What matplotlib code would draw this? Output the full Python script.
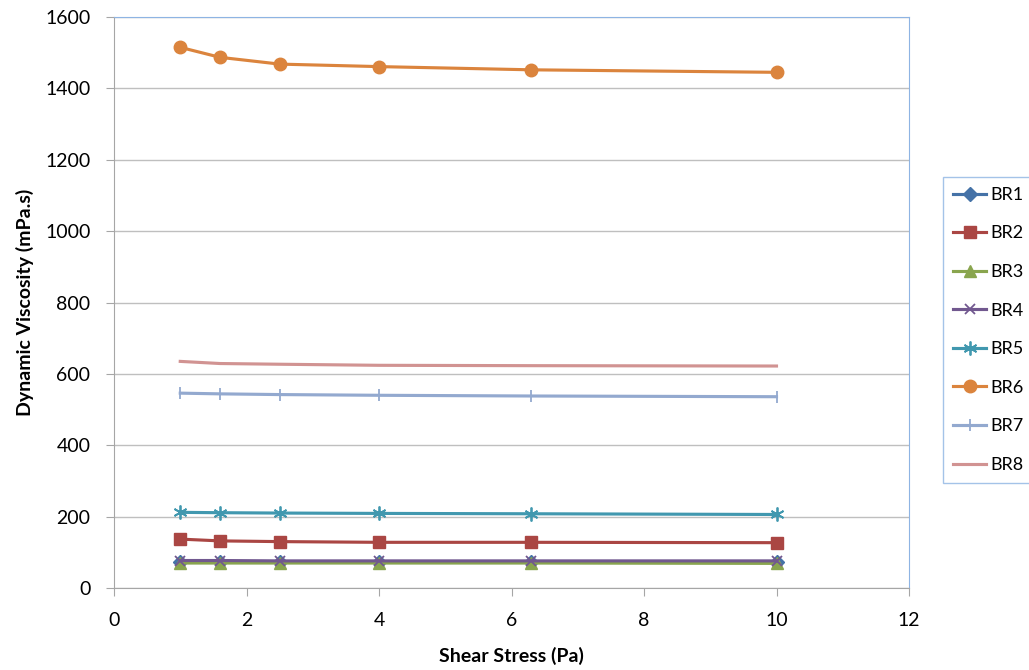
import matplotlib
matplotlib.use("Agg")
import matplotlib.pyplot as plt

plt.rcParams['font.family'] = ['Lato', 'DejaVu Sans']

shear = [1, 1.6, 2.5, 4, 6.3, 10]
br1 = [73, 73, 73, 73, 73, 73]
br2 = [137, 132, 130, 128, 128, 127]
br3 = [70, 70, 70, 70, 70, 69]
br4 = [77, 77, 76, 76, 76, 76]
br5 = [212, 211, 210, 209, 208, 206]
br6 = [1515, 1487, 1468, 1461, 1452, 1445]
br7 = [546, 544, 542, 540, 538, 536]
br8 = [635, 629, 627, 624, 623, 622]
labels = ["BR1", "BR2", "BR3", "BR4", "BR5", "BR6", "BR7", "BR8"]

styles = [
    ("#4572A7", "D", 7),
    ("#AA4643", "s", 8.5),
    ("#89A54E", "^", 8.5),
    ("#71588F", "x", 7),
    ("#4198AF", (6, 2, 0), 10),
    ("#DB843D", "o", 9),
    ("#93A9CF", "|", 8),
    ("#D19392", None, 0),
]

fig = plt.figure(figsize=(10.29, 6.70), dpi=100)
ax = fig.add_axes([114/1029, 1 - 588/670, (909-114)/1029, (588-17)/670])

for name, vals, (col, mk, ms) in zip(labels, [br1, br2, br3, br4, br5, br6, br7, br8], styles):
    if mk is None:
        ax.plot(shear, vals, color=col, lw=2.25, label=name)
    else:
        ax.plot(shear, vals, color=col, lw=2.25, marker=mk, markersize=ms,
                markeredgewidth=1.3 if mk in ("x", "|", (6, 2, 0)) else 1,
                label=name)

ax.set_xlim(0, 12)
ax.set_ylim(0, 1600)
ax.set_xticks(range(0, 13, 2))
ax.set_yticks(range(0, 1601, 200))
ax.grid(axis='y', color='#BFBFBF', lw=1)
ax.set_axisbelow(True)
for s in ['top', 'right']:
    ax.spines[s].set_color('#8EB4E3')
for s in ['left', 'bottom']:
    ax.spines[s].set_color('#A6A6A6')
ax.tick_params(axis='both', labelsize=14, color='#A6A6A6', length=6, direction='out')
ax.tick_params(axis='y', pad=11)
ax.tick_params(axis='x', pad=11)
ax.set_xlabel("Shear Stress (Pa)", fontsize=14, fontweight='bold', labelpad=13)
ax.set_ylabel("Dynamic Viscosity (mPa.s)", fontsize=14, fontweight='bold', labelpad=8)

leg = fig.legend(loc='upper left', bbox_to_anchor=(943/1029, 1 - 177/670),
                 frameon=True, fancybox=False, fontsize=13, handlelength=1.85,
                 labelspacing=1.25, borderpad=0.55, handletextpad=0.2,
                 borderaxespad=0)
leg.get_frame().set_edgecolor('#8EB4E3')
leg.get_frame().set_linewidth(1)

fig.savefig("out.png", dpi=100)
